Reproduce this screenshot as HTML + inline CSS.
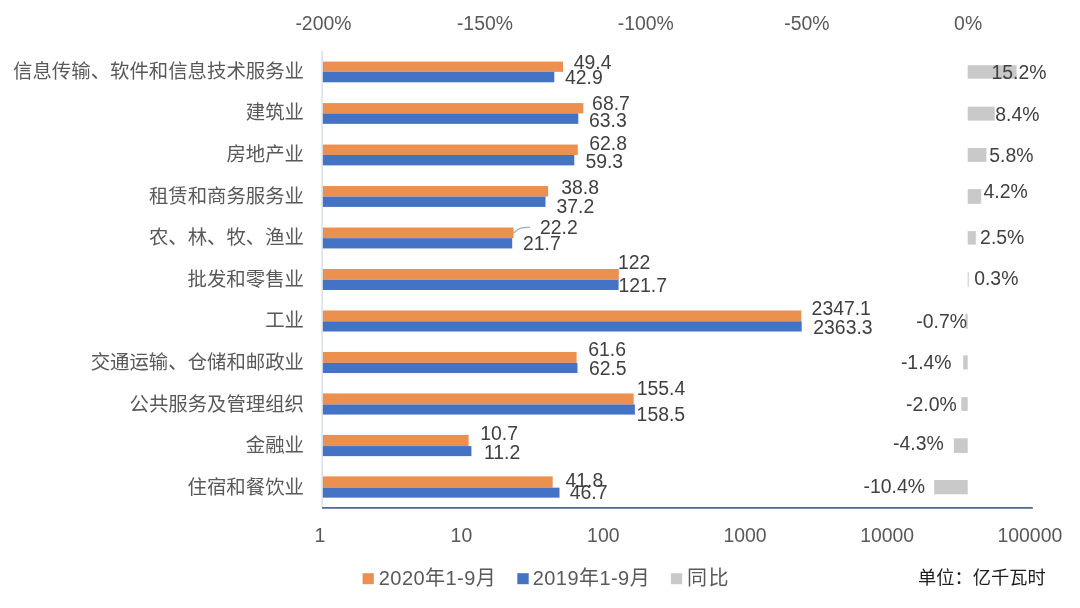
<!DOCTYPE html>
<html lang="zh-CN"><head><meta charset="utf-8"><title>全社会用电量 分行业</title>
<style>html,body{margin:0;padding:0;background:#fff}svg{display:block}text{font-family:"Liberation Sans", "Noto Sans CJK SC", sans-serif;}</style></head><body>
<svg width="1080" height="608" viewBox="0 0 1080 608">
<rect width="1080" height="608" fill="#fff"/>
<line x1="322.1" y1="51" x2="322.1" y2="507.5" stroke="#C9D5E6" stroke-width="1.1"/>
<rect x="322.9" y="61.60" width="240.1" height="10.25" fill="#EC9050"/>
<rect x="322.9" y="71.85" width="231.4" height="10.45" fill="#4472C4"/>
<rect x="967.7" y="65.2" width="48.9" height="13.5" fill="#C9C9C9"/>
<rect x="322.9" y="103.08" width="260.4" height="10.35" fill="#EC9050"/>
<rect x="322.9" y="113.43" width="255.4" height="10.41" fill="#4472C4"/>
<rect x="967.7" y="106.7" width="27.0" height="13.9" fill="#C9C9C9"/>
<rect x="322.9" y="144.56" width="254.9" height="10.45" fill="#EC9050"/>
<rect x="322.9" y="155.01" width="251.4" height="10.36" fill="#4472C4"/>
<rect x="967.7" y="148.0" width="18.7" height="13.9" fill="#C9C9C9"/>
<rect x="322.9" y="186.04" width="225.2" height="10.55" fill="#EC9050"/>
<rect x="322.9" y="196.59" width="222.6" height="10.31" fill="#4472C4"/>
<rect x="967.7" y="189.1" width="13.5" height="14.8" fill="#C9C9C9"/>
<rect x="322.9" y="227.52" width="190.7" height="10.65" fill="#EC9050"/>
<rect x="322.9" y="238.17" width="189.3" height="10.27" fill="#4472C4"/>
<rect x="967.7" y="231.1" width="8.1" height="13.5" fill="#C9C9C9"/>
<rect x="322.9" y="269.00" width="295.9" height="10.75" fill="#EC9050"/>
<rect x="322.9" y="279.75" width="295.7" height="10.22" fill="#4472C4"/>
<rect x="967.7" y="271.9" width="1.0" height="15.1" fill="#C9C9C9"/>
<rect x="322.9" y="310.48" width="478.4" height="10.85" fill="#EC9050"/>
<rect x="322.9" y="321.33" width="478.8" height="10.18" fill="#4472C4"/>
<rect x="965.4" y="313.9" width="2.3" height="14.8" fill="#C9C9C9"/>
<rect x="322.9" y="351.96" width="253.7" height="10.95" fill="#EC9050"/>
<rect x="322.9" y="362.91" width="254.6" height="10.14" fill="#4472C4"/>
<rect x="963.2" y="355.4" width="4.5" height="14.0" fill="#C9C9C9"/>
<rect x="322.9" y="393.44" width="310.8" height="11.05" fill="#EC9050"/>
<rect x="322.9" y="404.49" width="312.0" height="10.09" fill="#4472C4"/>
<rect x="961.3" y="397.2" width="6.4" height="13.7" fill="#C9C9C9"/>
<rect x="322.9" y="434.92" width="145.7" height="11.15" fill="#EC9050"/>
<rect x="322.9" y="446.07" width="148.5" height="10.05" fill="#4472C4"/>
<rect x="953.9" y="438.3" width="13.8" height="14.7" fill="#C9C9C9"/>
<rect x="322.9" y="476.40" width="229.8" height="11.25" fill="#EC9050"/>
<rect x="322.9" y="487.65" width="236.6" height="10.00" fill="#4472C4"/>
<rect x="934.2" y="480.0" width="33.5" height="14.3" fill="#C9C9C9"/>
<line x1="322.0" y1="507.85" x2="1032.8" y2="507.85" stroke="#4F6B93" stroke-width="1.7"/>
<path d="M513.6 233.2 Q517.5 228.6 522 227.8 L530 227.2" fill="none" stroke="#9FAABC" stroke-width="1.3"/>
<rect x="362.6" y="573.2" width="11.2" height="11" fill="#EC9050"/>
<rect x="517.3" y="573.2" width="11.4" height="11" fill="#4472C4"/>
<rect x="670.9" y="573.2" width="11.3" height="11" fill="#C9C9C9"/>
<text x="295.4" y="29.5" font-size="19.4" fill="#595959">-200%</text>
<text x="456.9" y="29.5" font-size="19.4" fill="#595959">-150%</text>
<text x="617.8" y="29.5" font-size="19.4" fill="#595959">-100%</text>
<text x="784.2" y="29.5" font-size="19.4" fill="#595959">-50%</text>
<text x="954.1" y="29.5" font-size="19.4" fill="#595959">0%</text>
<text x="314.5" y="541.9" font-size="19.4" fill="#595959">1</text>
<text x="450.6" y="541.9" font-size="19.4" fill="#595959">10</text>
<text x="587.1" y="541.9" font-size="19.4" fill="#595959">100</text>
<text x="723.5" y="541.9" font-size="19.4" fill="#595959">1000</text>
<text x="860.2" y="541.9" font-size="19.4" fill="#595959">10000</text>
<text x="997.5" y="541.9" font-size="19.4" fill="#595959">100000</text>
<text x="13.1" y="77.8" font-size="19.4" fill="#595959">信息传输、软件和信息技术服务业</text>
<text x="573.7" y="68.5" font-size="19.4" fill="#404040">49.4</text>
<text x="565.0" y="84.2" font-size="19.4" fill="#404040">42.9</text>
<text x="991.5" y="78.5" font-size="19.4" fill="#404040">15.2%</text>
<text x="245.8" y="119.4" font-size="19.4" fill="#595959">建筑业</text>
<text x="592.1" y="109.9" font-size="19.4" fill="#404040">68.7</text>
<text x="589.0" y="127.0" font-size="19.4" fill="#404040">63.3</text>
<text x="995.3" y="120.9" font-size="19.4" fill="#404040">8.4%</text>
<text x="226.4" y="161.0" font-size="19.4" fill="#595959">房地产业</text>
<text x="589.3" y="150.4" font-size="19.4" fill="#404040">62.8</text>
<text x="585.4" y="168.4" font-size="19.4" fill="#404040">59.3</text>
<text x="989.3" y="161.7" font-size="19.4" fill="#404040">5.8%</text>
<text x="148.9" y="202.5" font-size="19.4" fill="#595959">租赁和商务服务业</text>
<text x="561.3" y="194.0" font-size="19.4" fill="#404040">38.8</text>
<text x="556.5" y="212.5" font-size="19.4" fill="#404040">37.2</text>
<text x="983.5" y="197.5" font-size="19.4" fill="#404040">4.2%</text>
<text x="148.9" y="244.1" font-size="19.4" fill="#595959">农、林、牧、渔业</text>
<text x="540.0" y="234.3" font-size="19.4" fill="#404040">22.2</text>
<text x="523.0" y="250.2" font-size="19.4" fill="#404040">21.7</text>
<text x="980.1" y="244.0" font-size="19.4" fill="#404040">2.5%</text>
<text x="187.6" y="285.7" font-size="19.4" fill="#595959">批发和零售业</text>
<text x="617.9" y="268.8" font-size="19.4" fill="#404040">122</text>
<text x="618.4" y="291.9" font-size="19.4" fill="#404040">121.7</text>
<text x="974.2" y="285.3" font-size="19.4" fill="#404040">0.3%</text>
<text x="265.2" y="327.3" font-size="19.4" fill="#595959">工业</text>
<text x="811.6" y="315.1" font-size="19.4" fill="#404040">2347.1</text>
<text x="813.3" y="333.7" font-size="19.4" fill="#404040">2363.3</text>
<text x="916.3" y="328.2" font-size="19.4" fill="#404040">-0.7%</text>
<text x="90.7" y="368.9" font-size="19.4" fill="#595959">交通运输、仓储和邮政业</text>
<text x="588.3" y="356.2" font-size="19.4" fill="#404040">61.6</text>
<text x="588.9" y="375.1" font-size="19.4" fill="#404040">62.5</text>
<text x="900.9" y="369.0" font-size="19.4" fill="#404040">-1.4%</text>
<text x="129.5" y="410.5" font-size="19.4" fill="#595959">公共服务及管理组织</text>
<text x="636.7" y="395.4" font-size="19.4" fill="#404040">155.4</text>
<text x="636.6" y="420.7" font-size="19.4" fill="#404040">158.5</text>
<text x="906.1" y="410.9" font-size="19.4" fill="#404040">-2.0%</text>
<text x="245.8" y="452.1" font-size="19.4" fill="#595959">金融业</text>
<text x="480.3" y="439.9" font-size="19.4" fill="#404040">10.7</text>
<text x="483.9" y="458.8" font-size="19.4" fill="#404040">11.2</text>
<text x="893.0" y="449.8" font-size="19.4" fill="#404040">-4.3%</text>
<text x="187.6" y="493.7" font-size="19.4" fill="#595959">住宿和餐饮业</text>
<text x="565.5" y="486.5" font-size="19.4" fill="#404040">41.8</text>
<text x="569.7" y="499.4" font-size="19.4" fill="#404040">46.7</text>
<text x="863.5" y="492.5" font-size="19.4" fill="#404040">-10.4%</text>
<text x="378.8" y="584.6" font-size="20" fill="#595959" letter-spacing="0.45">2020年1-9月</text>
<text x="532.7" y="584.6" font-size="20" fill="#595959" letter-spacing="0.45">2019年1-9月</text>
<text x="687.0" y="584.6" font-size="20" fill="#595959" letter-spacing="1.5">同比</text>
<text x="918.0" y="584.2" font-size="18.25" fill="#1c1c1c">单位：亿千瓦时</text>
</svg></body></html>
